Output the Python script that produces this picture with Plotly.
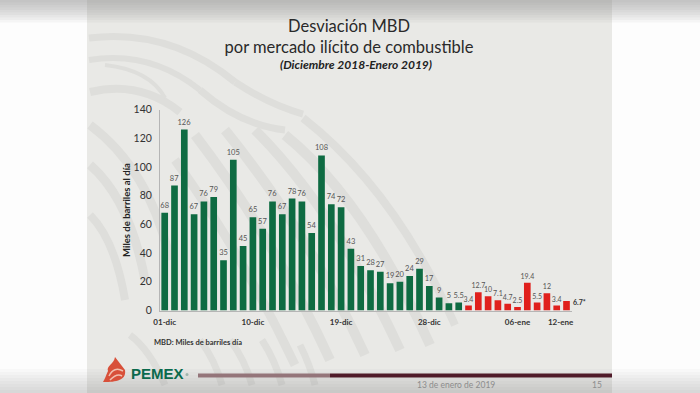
import plotly.graph_objects as go

W, H = 700, 393

# ---- data ----
green_values = [68, 87, 126, 67, 76, 79, 35, 105, 45, 65, 57, 76, 67, 78, 76, 54, 108, 74, 72, 43,
                31, 28, 27, 19, 20, 24, 29, 17, 9, 5, 5.5]
red_values = [3.4, 12.7, 10, 7.1, 4.7, 2.5, 19.4, 5.5, 12, 3.4, 6.7]
red_labels = ["3.4", "12.7", "10", "7.1", "4.7", "2.5", "19.4", "5.5", "12", "3.4", ""]
last_label = "6.7*"
tick_labels = ["01-dic", "10-dic", "19-dic", "28-dic", "06-ene", "12-ene"]
tick_positions = [0, 9, 18, 27, 36, 40.4]
y_ticks = [0, 20, 40, 60, 80, 100, 120, 140]

green_x = list(range(len(green_values)))
red_x = list(range(len(green_values), len(green_values) + len(red_values)))


def px(x):
    return x / W


def py(y):
    return 1 - y / H


def rect(x0, y0, x1, y1, color, opacity=1.0, layer="below"):
    return dict(type="rect", xref="paper", yref="paper", x0=px(x0), x1=px(x1), y0=py(y1), y1=py(y0),
                fillcolor=color, opacity=opacity, line=dict(width=0), layer=layer)


def band(p0, c, p1, width, color="#deDEDB"):
    d = f"M {px(p0[0]):.4f} {py(p0[1]):.4f} Q {px(c[0]):.4f} {py(c[1]):.4f} {px(p1[0]):.4f} {py(p1[1]):.4f}"
    return dict(type="path", xref="paper", yref="paper", path=d,
                line=dict(color=color, width=width), layer="below")


shapes = [rect(87, 0, 612, H, "#e9e9e6")]

# watermark (decorative eagle wing)
bands = [
    ((89, 38), (170, 28), (235, 82), 7), ((235, 82), (270, 105), (303, 114), 7),
    ((89, 60), (150, 50), (200, 90), 6), ((200, 90), (240, 125), (285, 130), 7),
    ((90, 92), (140, 80), (180, 112), 8), ((105, 65), (150, 70), (165, 98), 4),
    ((303, 118), (395, 190), (455, 325), 8), ((285, 135), (365, 200), (430, 345), 10),
    ((255, 130), (335, 210), (400, 350), 10), ((225, 130), (310, 235), (365, 355), 10),
    ((195, 135), (275, 240), (330, 360), 10), ((175, 160), (240, 250), (295, 365), 9),
    ((90, 125), (150, 170), (170, 260), 9), ((90, 165), (130, 200), (145, 280), 9),
    ((90, 215), (115, 240), (125, 300), 8), ((200, 340), (215, 360), (222, 385), 7),
    ((230, 340), (245, 360), (252, 385), 7), ((262, 340), (275, 360), (282, 385), 7),
    ((130, 335), (150, 350), (165, 385), 7), ((300, 345), (310, 365), (315, 385), 7),
]
shapes += [band(a, b, c, w) for a, b, c, w in bands]

# photographed shadow at the top and bottom of the frame
for i in range(9):
    shapes.append(rect(0, 0, W, 2.5 * (i + 1), "#8a8a8a", 0.07, "below"))
for i in range(8):
    shapes.append(rect(0, H - 3 * (i + 1), W, H, "#8a8a8a", 0.04, "below"))

# footer rule
shapes.append(rect(198, 373.5, 330, 377.5, "#94757a"))
shapes.append(rect(330, 373.5, 612, 377.5, "#4f1a29"))

# logo drop with a pale bird head inside
drop = "M {} {} C {} {} {} {} {} {} C {} {} {} {} {} {} C {} {} {} {} {} {} Z".format(
    px(115), py(357), px(114), py(364), px(106), py(366), px(108), py(371),
    px(106), py(375), px(105), py(379), px(103), py(382),
    px(112), py(382), px(127), py(382), px(125), py(370))
shapes.append(dict(type="path", xref="paper", yref="paper", path=drop,
                   fillcolor="#d8503a", line=dict(width=0), layer="below"))
shapes.append(band((109, 376), (114, 366), (123, 371), 1.5, "#f0c0b0"))
shapes.append(band((110, 380), (117, 373), (122, 376), 1.5, "#f0c0b0"))
shapes.append(dict(type="circle", xref="paper", yref="paper", x0=px(185.5), x1=px(188.5), y0=py(376), y1=py(373),
                   fillcolor="#9fb5ad", line=dict(width=0), layer="below"))

fig = go.Figure()
fig.add_trace(go.Bar(x=green_x, y=green_values, marker=dict(color="#0e6b42", line=dict(width=0)), width=0.68,
                     text=[str(v) for v in green_values], textposition="outside", cliponaxis=False,
                     constraintext="none",
                     textfont=dict(family="Lato", size=7.5, color="#555555"), showlegend=False))
fig.add_trace(go.Bar(x=red_x, y=red_values, marker=dict(color="#e0201c", line=dict(width=0)), width=0.68,
                     text=red_labels, textposition="outside", cliponaxis=False,
                     constraintext="none",
                     textfont=dict(family="Lato", size=7, color="#555555"), showlegend=False))

annotations = [
    dict(text="<b>" + last_label + "</b>", x=red_x[-1] + 0.42, y=red_values[-1] - 0.5, xref="x", yref="y", xanchor="left",
         yanchor="middle", showarrow=False, font=dict(family="Lato", size=7, color="#333333")),
    dict(text="<b><i>(Diciembre 2018-Enero 2019)</i></b>", x=px(356), y=py(64), xref="paper", yref="paper",
         yanchor="middle", showarrow=False, font=dict(family="Lato", size=12, color="#222222")),
    dict(text="<b>MBD: Miles de barriles día</b>", x=px(152), y=py(342), xref="paper", yref="paper", xanchor="left",
         yanchor="middle", showarrow=False, font=dict(family="Lato", size=7.5, color="#333333")),
    dict(text="<b>PEMEX</b>", x=px(129), y=py(373), xref="paper", yref="paper", xanchor="left",
         yanchor="middle", showarrow=False, font=dict(family="Liberation Sans", size=15, color="#0b6a4c")),
    dict(text="13 de enero de 2019", x=px(497), y=py(385), xref="paper", yref="paper",
         yanchor="middle", showarrow=False, font=dict(family="Lato", size=8.5, color="#8d8d8d")),
    dict(text="15", x=px(604), y=py(385), xref="paper", yref="paper",
         yanchor="middle", showarrow=False, font=dict(family="Lato", size=8.5, color="#8d8d8d")),
]

fig.update_layout(
    width=W, height=H, autosize=False,
    margin=dict(l=0, r=0, t=0, b=0, pad=0, autoexpand=False),
    paper_bgcolor="#fdfdfd", plot_bgcolor="rgba(0,0,0,0)",
    barmode="overlay",
    showlegend=False,
    shapes=shapes,
    annotations=annotations,
    title=dict(text="Desviación MBD<br>por mercado ilícito de combustible",
               x=349 / W, xanchor="center", y=1 - 32 / H, yanchor="top", yref="container",
               pad=dict(t=0, b=0),
               font=dict(family="Lato", size=16.5, color="#2a2a2a")),
    xaxis=dict(domain=[px(160), px(572)], range=[-0.48, 41.56], tickmode="array",
               tickvals=tick_positions, ticktext=[f"<b>{t}</b>" for t in tick_labels],
               tickfont=dict(family="Lato", size=8, color="#333333"), ticks="", showgrid=False,
               ticklabelstandoff=4,
               showline=True, linecolor="#b5b5b5", linewidth=1, zeroline=False, tickangle=0),
    yaxis=dict(domain=[py(310.5), py(109.5)], range=[0, 140], tickmode="array", tickvals=y_ticks,
               tickfont=dict(family="Lato", size=10.5, color="#333333"), ticks="", showgrid=False,
               ticklabelstandoff=5,
               showline=True, linecolor="#b5b5b5", linewidth=1, zeroline=False,
               title=dict(text="<b>Miles de barriles al día</b>", standoff=1,
                          font=dict(family="Lato", size=9.5, color="#222222"))),
)

fig.write_html("out.html", config={"displayModeBar": False},
               post_script="document.body.style.margin='0';document.documentElement.style.overflow='hidden';")
